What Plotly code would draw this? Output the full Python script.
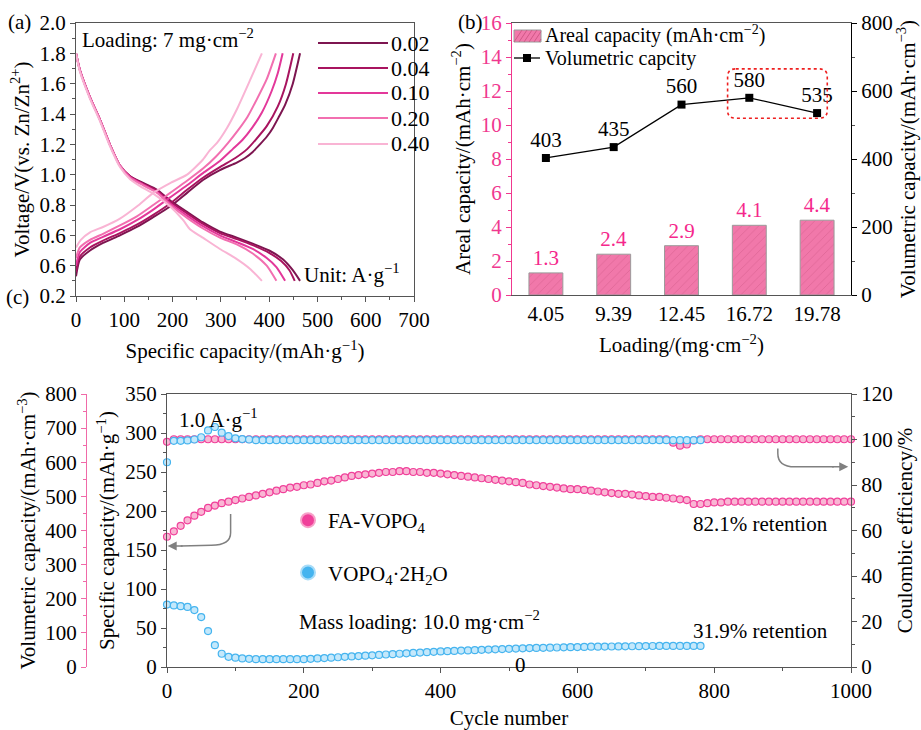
import plotly.graph_objects as go

FONT = "Liberation Serif"

# ---------------- Panel (a) data: GCD curves ----------------
rates = ["0.02", "0.04", "0.10", "0.20", "0.40"]
rate_colors = ["#7d1550", "#a8145f", "#e3389a", "#f26fb0", "#f9b4d4"]

chg_cap = [
    [0, 8, 29, 56, 91, 126, 160, 195, 230, 263, 298, 333, 350, 366, 381, 395, 408, 420, 433, 449, 464],
    [0, 8, 29, 56, 91, 126, 160, 195, 230, 263, 298, 330, 355, 372, 395, 418, 435, 450],
    [0, 8, 29, 56, 91, 126, 160, 195, 230, 263, 298, 325, 345, 365, 385, 405, 418, 428],
    [0, 8, 29, 56, 91, 126, 160, 195, 230, 263, 290, 315, 335, 355, 375, 395, 414],
    [0, 10, 29, 56, 91, 126, 160, 195, 230, 263, 277, 292, 313, 333, 360, 385],
]
chg_v = [
    [0.33, 0.44, 0.50, 0.55, 0.60, 0.655, 0.72, 0.79, 0.88, 0.965, 1.03, 1.08, 1.11, 1.15, 1.20, 1.25, 1.31, 1.38, 1.46, 1.60, 1.80],
    [0.36, 0.46, 0.52, 0.565, 0.615, 0.67, 0.735, 0.81, 0.90, 0.98, 1.05, 1.11, 1.17, 1.23, 1.32, 1.45, 1.60, 1.80],
    [0.40, 0.49, 0.55, 0.59, 0.64, 0.70, 0.77, 0.85, 0.93, 1.01, 1.09, 1.17, 1.23, 1.31, 1.41, 1.55, 1.67, 1.80],
    [0.45, 0.52, 0.57, 0.61, 0.665, 0.725, 0.80, 0.88, 0.96, 1.04, 1.12, 1.21, 1.29, 1.38, 1.50, 1.63, 1.80],
    [0.52, 0.57, 0.62, 0.655, 0.71, 0.79, 0.88, 0.945, 1.00, 1.10, 1.16, 1.21, 1.31, 1.43, 1.62, 1.80],
]
dis_cap = [
    [0, 8, 29, 50, 70, 91, 112, 139, 168, 195, 230, 263, 298, 333, 366, 400, 429, 449, 464],
    [0, 8, 29, 50, 70, 91, 112, 139, 168, 195, 230, 263, 298, 333, 366, 400, 425, 442, 453],
    [0, 8, 29, 50, 70, 91, 112, 139, 168, 195, 230, 263, 298, 333, 366, 395, 415, 433],
    [0, 8, 29, 50, 70, 91, 112, 139, 168, 195, 230, 263, 298, 333, 366, 395, 415],
    [0, 8, 29, 50, 70, 91, 112, 135, 160, 195, 222, 236, 260, 298, 330, 360, 385],
]
dis_v = [
    [1.80, 1.69, 1.51, 1.36, 1.20, 1.06, 0.99, 0.945, 0.90, 0.83, 0.755, 0.685, 0.625, 0.585, 0.545, 0.50, 0.44, 0.37, 0.30],
    [1.80, 1.69, 1.51, 1.36, 1.20, 1.06, 0.99, 0.94, 0.895, 0.82, 0.745, 0.675, 0.615, 0.575, 0.535, 0.485, 0.43, 0.37, 0.30],
    [1.80, 1.69, 1.51, 1.36, 1.20, 1.06, 0.985, 0.935, 0.885, 0.81, 0.73, 0.66, 0.60, 0.555, 0.51, 0.45, 0.39, 0.30],
    [1.80, 1.69, 1.51, 1.36, 1.20, 1.06, 0.98, 0.93, 0.88, 0.80, 0.715, 0.645, 0.585, 0.54, 0.48, 0.40, 0.30],
    [1.80, 1.68, 1.50, 1.35, 1.19, 1.05, 0.97, 0.92, 0.875, 0.79, 0.70, 0.64, 0.59, 0.51, 0.45, 0.38, 0.30],
]
a_yticks = [0.2, 0.4, 0.6, 0.8, 1.0, 1.2, 1.4, 1.6, 1.8, 2.0]
a_yticktext = ["0.2", "0.6", "0.6", "0.8", "1.0", "1.2", "1.4", "1.6", "1.8", "2.0"]

# ---------------- Panel (b) data ----------------
loadings = ["4.05", "9.39", "12.45", "16.72", "19.78"]
areal_cap = [1.3, 2.4, 2.9, 4.1, 4.4]
vol_cap = [403, 435, 560, 580, 535]

# ---------------- Panel (c) data ----------------
fa_cycles = list(range(0, 1001, 10))
fa_capacity = [167, 174, 181, 188, 194, 199, 204, 207, 210, 212,
               214, 216, 218, 220, 222, 224, 226, 228, 230, 231,
               233, 234, 236, 238, 239, 241, 243, 245, 246, 247,
               248, 249, 250, 250, 251, 251, 250, 250, 249, 249,
               248, 247, 246, 245, 244, 243, 242, 241, 240, 239,
               238, 237, 236, 234, 233, 232, 231, 230, 229, 228,
               228, 227, 226, 225, 224, 223, 222, 222, 221, 220,
               219, 218, 218, 217, 216, 215, 214, 209, 209, 210,
               211, 211, 212, 212, 212, 212, 212, 212, 212, 212,
               212, 212, 212, 212, 212, 212, 212, 212, 212, 212,
               212]
fa_ce = [99.0] + [100.1] * 73 + [98.6, 97.3, 97.8, 99.6] + [100.1] * 23

vo_cycles = list(range(0, 781, 10))
vo_capacity = [80, 79, 78, 77, 73, 64, 46, 28, 17, 13,
               12, 11, 10.5, 10, 10, 10, 10, 10, 10, 10,
               10, 10.5, 11, 11.5, 12, 12.5, 13, 13.5, 14, 14.5,
               15, 15.5, 16, 16.5, 17, 17.5, 18, 18.5, 19, 19.5,
               20, 20.3, 20.6, 21, 21.3, 21.6, 22, 22.3, 22.6, 23,
               23.3, 23.6, 24, 24.2, 24.4, 24.6, 24.8, 25, 25.2, 25.4,
               25.6, 25.8, 26, 26.1, 26.2, 26.3, 26.4, 26.5, 26.6, 26.7,
               26.8, 26.9, 27, 27, 27, 27, 27, 27, 27]
vo_ce = [90.0, 99.4, 99.4, 99.6, 100.0, 101.0, 104.0, 105.5, 103.0, 101.5,
         100.5, 100.2, 100.0] + [99.7] * 66

PINK = "#f0409a"
BLUE = "#45b4ef"
BAR_PINK = "#f178aa"
FS = 21

fig = go.Figure()

# ---- (a) traces
for i, r in enumerate(rates):
    fig.add_trace(go.Scatter(x=chg_cap[i], y=chg_v[i], mode="lines", name=r, showlegend=False,
                             line=dict(color=rate_colors[i], width=2, shape="spline", smoothing=0.6),
                             xaxis="x", yaxis="y"))
    fig.add_trace(go.Scatter(x=dis_cap[i], y=dis_v[i], mode="lines", showlegend=False,
                             line=dict(color=rate_colors[i], width=2, shape="spline", smoothing=0.6),
                             xaxis="x", yaxis="y"))

# ---- (b) traces
fig.add_trace(go.Bar(x=loadings, y=areal_cap, name="Areal capacity", showlegend=False,
                     width=0.5,
                     marker=dict(color=BAR_PINK, line=dict(color="#9a9a9a", width=1),
                                 pattern=dict(shape="/", fgcolor="#c8507e", size=6, solidity=0.12)),
                     text=[f"{v:.1f}" for v in areal_cap], textposition="outside",
                     textfont=dict(family=FONT, size=FS, color="#f5288c"), cliponaxis=False,
                     xaxis="x2", yaxis="y2"))
fig.add_trace(go.Scatter(x=loadings, y=vol_cap, mode="lines+markers+text", name="Volumetric capcity",
                         showlegend=False,
                         line=dict(color="black", width=1.3),
                         marker=dict(symbol="square", size=8, color="black"),
                         text=[str(v) for v in vol_cap], textposition="top center",
                         textfont=dict(family=FONT, size=FS, color="black"), cliponaxis=False,
                         xaxis="x2", yaxis="y3"))

# ---- (c) traces
MS = 7
fig.add_trace(go.Scatter(x=fa_cycles, y=fa_capacity, mode="markers", showlegend=False,
                         marker=dict(symbol="circle", size=MS, color="#f9b6d4", line=dict(color=PINK, width=1.2)),
                         cliponaxis=False, xaxis="x3", yaxis="y4"))
fig.add_trace(go.Scatter(x=vo_cycles, y=vo_capacity, mode="markers", showlegend=False,
                         marker=dict(symbol="circle", size=MS, color="#c4e8fb", line=dict(color=BLUE, width=1.2)),
                         cliponaxis=False, xaxis="x3", yaxis="y4"))
fig.add_trace(go.Scatter(x=fa_cycles, y=fa_ce, mode="markers", showlegend=False,
                         marker=dict(symbol="circle", size=MS, color="#f9b6d4", line=dict(color=PINK, width=1.2)),
                         cliponaxis=False, xaxis="x3", yaxis="y5"))
fig.add_trace(go.Scatter(x=vo_cycles, y=vo_ce, mode="markers", showlegend=False,
                         marker=dict(symbol="circle", size=MS, color="#c4e8fb", line=dict(color=BLUE, width=1.2)),
                         cliponaxis=False, xaxis="x3", yaxis="y5"))
# legend-only entries for (c)
fig.add_trace(go.Scatter(x=[None], y=[None], mode="markers", name="FA-VOPO<sub>4</sub>",
                         marker=dict(size=14, color=PINK, line=dict(color="#f7a0c8", width=2)),
                         xaxis="x3", yaxis="y4", legend="legend3", legendgroup="fa"))
fig.add_trace(go.Scatter(x=[None], y=[None], mode="markers", name="VOPO<sub>4</sub>·2H<sub>2</sub>O",
                         marker=dict(size=14, color=BLUE, line=dict(color="#a8dcf8", width=2)),
                         xaxis="x3", yaxis="y4", legend="legend3", legendgroup="vo"))
# anchor trace for volumetric axis
fig.add_trace(go.Scatter(x=[None], y=[None], mode="markers", showlegend=False,
                         hoverinfo="skip", xaxis="x3", yaxis="y6"))

W, H = 921, 730
def px_x(p):
    return p / W
def px_y(p):
    return 1 - p / H

AX = "#555555"
tickfont = dict(family=FONT, size=FS, color="black")
titlefont = dict(family=FONT, size=FS, color="black")

def base_axis(**kw):
    d = dict(showgrid=False, zeroline=False, showline=True, linecolor=AX, linewidth=1.2,
             ticks="outside", ticklen=5, tickcolor=AX, tickwidth=1.2, tickfont=tickfont,
             title_font=titlefont, automargin=False)
    d.update(kw)
    return d

minor = lambda dt: dict(dtick=dt, ticks="outside", ticklen=3, tickcolor=AX, tickwidth=1, showgrid=False)

layout = dict(
    width=W, height=H, paper_bgcolor="white", plot_bgcolor="white",
    margin=dict(l=0, r=0, t=0, b=0, autoexpand=False),
    font=dict(family=FONT, size=FS, color="black"),
    # (a)
    xaxis=base_axis(domain=[px_x(76), px_x(414)], anchor="y", range=[0, 700], dtick=100,
                    minor=minor(50), mirror=True, title=dict(text="Specific capacity/(mAh·g<sup>−1</sup>)", standoff=12)),
    yaxis=base_axis(domain=[px_y(296), px_y(23)], anchor="x", range=[0.2, 2.0],
                    tickvals=a_yticks, ticktext=a_yticktext, minor=minor(0.1), mirror=True,
                    title=dict(text="Voltage/V(vs. Zn/Zn<sup>2+</sup>)", standoff=4)),
    # (b)
    xaxis2=base_axis(domain=[px_x(512), px_x(851)], anchor="y2", type="category", range=[-0.5, 4.5],
                     ticks="", mirror=True, linecolor=AX,
                     title=dict(text="Loading/(mg·cm<sup>−2</sup>)", standoff=12)),
    yaxis2=base_axis(domain=[px_y(295), px_y(23)], anchor="x2", range=[0, 16], dtick=2,
                     linecolor="#f0388f", tickcolor="#f0388f",
                     tickfont=dict(family=FONT, size=FS, color="#f0388f"),
                     minor=dict(dtick=1, ticks="outside", ticklen=3, tickcolor="#f0388f", showgrid=False),
                     title=dict(text="Areal capacity/(mAh·cm<sup>−2</sup>)", standoff=4)),
    yaxis3=base_axis(overlaying="y2", anchor="x2", side="right", range=[0, 800], dtick=200,
                     linecolor="black", tickcolor="black", minor=minor(100),
                     title=dict(text="Volumetric capacity/(mAh·cm<sup>−3</sup>)", standoff=4)),
    # (c)
    xaxis3=base_axis(domain=[px_x(167), px_x(851)], anchor="y4", range=[0, 1000], dtick=200,
                     minor=minor(100), mirror=True, title=dict(text="Cycle number", standoff=20)),
    yaxis4=base_axis(domain=[px_y(667), px_y(394)], anchor="x3", range=[0, 350], dtick=50,
                     minor=minor(25), title=dict(text="Specific capacity/(mAh·g<sup>−1</sup>)", standoff=4)),
    yaxis5=base_axis(overlaying="y4", anchor="x3", side="right", range=[0, 120], dtick=20,
                     minor=minor(10), title=dict(text="Coulombic efficiency/%", standoff=4)),
    yaxis6=base_axis(overlaying="y4", anchor="free", position=px_x(86), side="left", range=[0, 800],
                     dtick=100, linecolor="#f06aa8", tickcolor="#f06aa8",
                     minor=dict(dtick=50, ticks="outside", ticklen=3, tickcolor="#f06aa8", showgrid=False),
                     title=dict(text="Volumetric capacity/(mAh·cm<sup>−3</sup>)", standoff=2)),
    legend3=dict(x=px_x(288), y=px_y(500), xanchor="left", yanchor="top", bgcolor="rgba(0,0,0,0)",
                 font=dict(family=FONT, size=FS), tracegroupgap=22, traceorder="grouped"),
    showlegend=True,
)
fig.update_layout(**layout)

ann = []
def txt(text, x, y, xref="paper", yref="paper", size=FS, color="black", xanchor="left", yanchor="middle"):
    ann.append(dict(text=text, x=x, y=y, xref=xref, yref=yref, showarrow=False,
                    font=dict(family=FONT, size=size, color=color), xanchor=xanchor, yanchor=yanchor))

txt("(a)", px_x(6), px_y(22))
txt("(b)", px_x(456), px_y(22))
txt("(c)", px_x(4), px_y(297))
txt("Loading: 7 mg·cm<sup>−2</sup>", 8, 1.90, "x", "y")
txt("Unit: A·g<sup>−1</sup>", 676, 0.35, "x", "y", xanchor="right")
txt("1.0 A·g<sup>−1</sup>", 15, 318, "x3", "y4")
txt("Mass loading: 10.0 mg·cm<sup>−2</sup>", 190, 59, "x3", "y4")
txt("82.1% retention", 970, 183, "x3", "y4", xanchor="right")
txt("31.9% retention", 970, 46, "x3", "y4", xanchor="right")
txt("0", 517, 3, "x3", "y4", xanchor="center")

shapes = []
# (a) legend keys drawn by hand (long line swatches)
leg_a_y = [43, 68, 93, 118, 144]
for i, r in enumerate(rates):
    shapes.append(dict(type="line", xref="paper", yref="paper", x0=px_x(318), x1=px_x(388),
                       y0=px_y(leg_a_y[i]), y1=px_y(leg_a_y[i]),
                       line=dict(color=rate_colors[i], width=2)))
    txt(r, px_x(389), px_y(leg_a_y[i]), size=22)

# (b) legend keys drawn by hand
shapes.append(dict(type="rect", xref="paper", yref="paper", x0=px_x(514), x1=px_x(541),
                   y0=px_y(42), y1=px_y(30), fillcolor=BAR_PINK, line=dict(color="#9a9a9a", width=1)))
for k in range(6):
    xa = 514 + k * 5
    xb = min(xa + 8, 541)
    shapes.append(dict(type="line", xref="paper", yref="paper", x0=px_x(xa), x1=px_x(xb),
                       y0=px_y(42), y1=px_y(42 - (xb - xa) * 1.5),
                       line=dict(color="#c8507e", width=0.8)))
shapes.append(dict(type="line", xref="paper", yref="paper", x0=px_x(514), x1=px_x(540),
                   y0=px_y(58), y1=px_y(58), line=dict(color="black", width=1.3)))
shapes.append(dict(type="rect", xref="paper", yref="paper", x0=px_x(523), x1=px_x(531),
                   y0=px_y(62), y1=px_y(54), fillcolor="black", line=dict(color="black", width=0)))
txt("Areal capacity (mAh·cm<sup>−2</sup>)", px_x(543), px_y(35), size=20)
txt("Volumetric capcity", px_x(543), px_y(58), size=20)

# arrows in (c)
ann.append(dict(x=1, y=155, ax=25, ay=155, xref="x3", yref="y4", axref="x3", ayref="y4",
                showarrow=True, arrowhead=2, arrowsize=1.2, arrowwidth=1.5, arrowcolor="#808080", text=""))
ann.append(dict(x=996, y=88, ax=970, ay=88, xref="x3", yref="y5", axref="x3", ayref="y5",
                showarrow=True, arrowhead=2, arrowsize=1.2, arrowwidth=1.5, arrowcolor="#808080", text=""))
shapes += [
    dict(type="path", xref="x3", yref="y4", path="M 93,196 L 93,172 Q 93,156 65,156 L 20,155",
         line=dict(color="#808080", width=1.5)),
    dict(type="path", xref="x3", yref="y5", path="M 893,96 L 893,94 Q 893,88 918,88 L 975,88",
         line=dict(color="#808080", width=1.5)),
    dict(type="path", xref="x2", yref="y3",
         path="M 2.80,665 L 4.03,665 Q 4.15,665 4.15,642 L 4.15,543 Q 4.15,520 4.03,520 L 2.80,520 "
              "Q 2.68,520 2.68,543 L 2.68,642 Q 2.68,665 2.80,665 Z",
         line=dict(color="#ee2020", width=1.6, dash="dot")),
]
fig.update_layout(annotations=ann, shapes=shapes)

fig.write_html("out.html", config={"displayModeBar": False},
               post_script="document.body.style.margin='0px';document.body.style.overflow='hidden';")
